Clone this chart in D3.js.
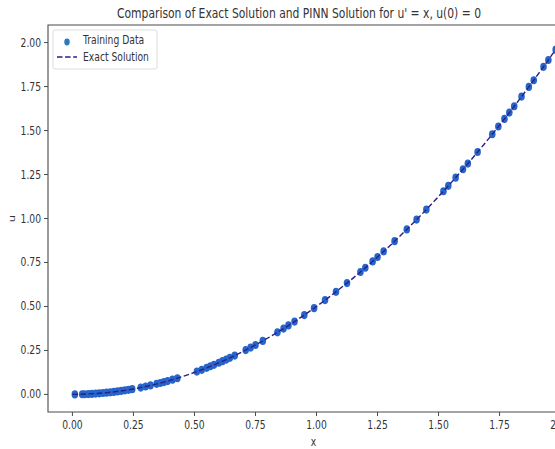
<!DOCTYPE html>
<html>
<head>
<meta charset="utf-8">
<script src="https://cdn.jsdelivr.net/npm/d3@7"></script>
<style>
  html, body { margin: 0; padding: 0; background: #fff; }
  svg { display: block; font-family: "DejaVu Sans", sans-serif; }
</style>
</head>
<body>
<svg id="chart" width="555" height="449"></svg>
<script>
// training points
const trainX = [0.01, 0.04, 0.05, 0.065, 0.08, 0.095, 0.11, 0.125, 0.14, 0.155,
  0.17, 0.185, 0.20, 0.215, 0.23, 0.245, 0.28, 0.30, 0.32, 0.345,
  0.36, 0.375, 0.39, 0.41, 0.43, 0.51, 0.53, 0.55, 0.565, 0.58,
  0.60, 0.615, 0.63, 0.645, 0.665, 0.71, 0.73, 0.75, 0.78, 0.84,
  0.865, 0.885, 0.91, 0.95, 0.99, 1.035, 1.08, 1.125, 1.18, 1.20,
  1.23, 1.25, 1.275, 1.32, 1.37, 1.41, 1.45, 1.52, 1.54, 1.57,
  1.60, 1.62, 1.66, 1.72, 1.745, 1.77, 1.79, 1.81, 1.84, 1.87,
  1.89, 1.93, 1.95, 1.98];
const trainU = [0.000, 0.001, 0.001, 0.002, 0.003, 0.005, 0.006, 0.008, 0.010, 0.012,
  0.014, 0.017, 0.020, 0.023, 0.026, 0.030, 0.039, 0.045, 0.051, 0.060,
  0.065, 0.070, 0.076, 0.084, 0.092, 0.130, 0.140, 0.151, 0.160, 0.168,
  0.180, 0.189, 0.198, 0.208, 0.221, 0.252, 0.266, 0.281, 0.304, 0.353,
  0.374, 0.392, 0.414, 0.451, 0.490, 0.536, 0.583, 0.633, 0.696, 0.720,
  0.756, 0.781, 0.813, 0.871, 0.938, 0.994, 1.051, 1.155, 1.186, 1.232,
  1.280, 1.312, 1.378, 1.479, 1.523, 1.566, 1.602, 1.638, 1.693, 1.748,
  1.786, 1.862, 1.901, 1.960];

// exact solution curve
const exactX = [0, 0.125, 0.25, 0.375, 0.5, 0.625, 0.75, 0.875, 1, 1.125, 1.25, 1.375, 1.5, 1.625, 1.75, 1.875, 2];
const exactU = [0, 0.008, 0.031, 0.070, 0.125, 0.195, 0.281, 0.383, 0.5, 0.633, 0.781, 0.945, 1.125, 1.320, 1.531, 1.758, 2.0];

const xTicks = [0, 0.25, 0.5, 0.75, 1, 1.25, 1.5, 1.75, 2];
const uTicks = [0, 0.25, 0.5, 0.75, 1, 1.25, 1.5, 1.75, 2];

const titleText = "Comparison of Exact Solution and PINN Solution for u' = x, u(0) = 0";
const legendLabels = ["Training Data", "Exact Solution"];

// the figure looks squeezed sideways, so text and markers get squashed too
const sx = 0.8;
const pointColor = "#2765cb";
const lineColor = "#2a1f87";
const spineColor = "#4a4a4a";
const textColor = "#333";

const svg = d3.select("#chart");
const plotLeft = 48, plotTop = 25, plotBottom = 412, plotRight = 585;

const x = d3.scaleLinear().domain([-0.1, 2.1]).range([plotLeft, plotRight]);
const y = d3.scaleLinear().domain([-0.1, 2.1]).range([plotBottom, plotTop]);

function squashedText(g, px, py, str, size, anchor) {
  return g.append("text")
    .attr("transform", `translate(${px},${py}) scale(${sx},1)`)
    .attr("text-anchor", anchor)
    .attr("font-size", size)
    .attr("fill", textColor)
    .text(str);
}

// points
svg.append("g").selectAll("ellipse")
  .data(trainX.map((d, i) => [d, trainU[i]]))
  .join("ellipse")
  .attr("cx", d => x(d[0]))
  .attr("cy", d => y(d[1]))
  .attr("rx", 4.1 * sx)
  .attr("ry", 4.1)
  .attr("fill", pointColor);

// exact line on top
const line = d3.line()
  .x(d => x(d[0]))
  .y(d => y(d[1]))
  .curve(d3.curveMonotoneX);
svg.append("path")
  .datum(exactX.map((d, i) => [d, exactU[i]]))
  .attr("d", line)
  .attr("fill", "none")
  .attr("stroke", lineColor)
  .attr("stroke-width", 1.4)
  .attr("stroke-dasharray", "5.5,2.6");

// spines
svg.append("path")
  .attr("d", `M${plotRight},${plotTop}H${plotLeft}V${plotBottom}H${plotRight}`)
  .attr("fill", "none")
  .attr("stroke", spineColor)
  .attr("stroke-width", 1.1);

// x axis
const xg = svg.append("g");
xTicks.forEach(t => {
  xg.append("line")
    .attr("x1", x(t)).attr("x2", x(t))
    .attr("y1", plotBottom).attr("y2", plotBottom + 4)
    .attr("stroke", spineColor);
  squashedText(xg, x(t), plotBottom + 17, d3.format(".2f")(t), 11.5, "middle");
});
squashedText(svg, (x(0) + x(2)) / 2 - 3, 446, "x", 11.5, "middle");

// u axis
const yg = svg.append("g");
uTicks.forEach(t => {
  yg.append("line")
    .attr("x1", plotLeft - 4).attr("x2", plotLeft)
    .attr("y1", y(t)).attr("y2", y(t))
    .attr("stroke", spineColor);
  squashedText(yg, plotLeft - 7, y(t) + 4, d3.format(".2f")(t), 11.5, "end");
});
svg.append("text")
  .attr("transform", `translate(15,${y(1)}) rotate(-90) scale(1,${sx})`)
  .attr("text-anchor", "middle")
  .attr("font-size", 11.5)
  .attr("fill", textColor)
  .text("u");

// title
svg.append("text")
  .attr("x", 117).attr("y", 18)
  .attr("font-size", 14.5)
  .attr("fill", textColor)
  .attr("textLength", 364)
  .attr("lengthAdjust", "spacingAndGlyphs")
  .text(titleText);

// legend
const lg = svg.append("g");
lg.append("rect")
  .attr("x", 53).attr("y", 30)
  .attr("width", 104).attr("height", 39)
  .attr("rx", 2)
  .attr("fill", "#fff")
  .attr("fill-opacity", 0.8)
  .attr("stroke", "#ddd");
lg.append("ellipse")
  .attr("cx", 67).attr("cy", 42)
  .attr("rx", 3.4 * sx).attr("ry", 3.4)
  .attr("fill", "#2a79bd");
lg.append("line")
  .attr("x1", 57).attr("x2", 77)
  .attr("y1", 57).attr("y2", 57)
  .attr("stroke", lineColor)
  .attr("stroke-width", 1.4)
  .attr("stroke-dasharray", "5.5,2.6");
squashedText(lg, 83, 44, legendLabels[0], 11.5, "start");
squashedText(lg, 83, 61, legendLabels[1], 11.5, "start");
</script>
</body>
</html>
